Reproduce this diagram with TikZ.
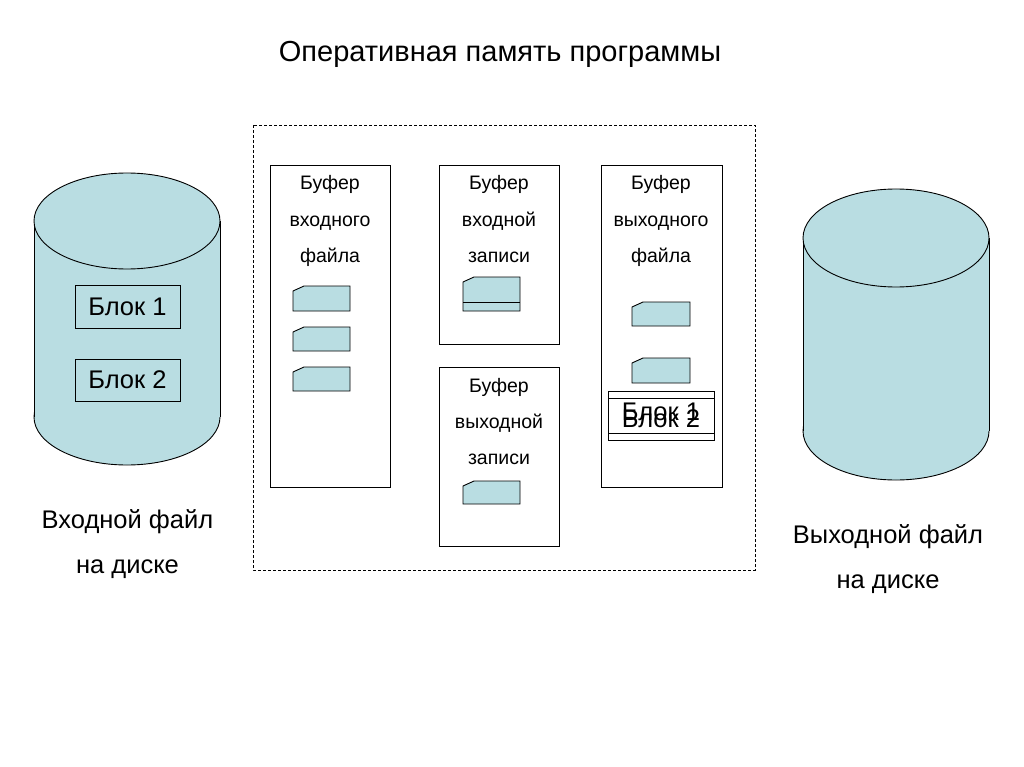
\documentclass[tikz,border=0pt]{standalone}
\usepackage{fontspec}
\setmainfont{Liberation Sans}
\definecolor{cyl}{RGB}{185,221,226}
\tikzset{
  x=1pt,y=-1pt,
  line/.style={draw=black,line width=0.9pt},
  bigtxt/.style={font=\fontsize{25.5}{25.5}\selectfont,inner sep=0pt},
  titletxt/.style={font=\fontsize{29}{29}\selectfont,inner sep=0pt,anchor=base},
  buftxt/.style={font=\fontsize{19.5}{19.5}\selectfont,inner sep=0pt,anchor=base},
  lbltxt/.style={bigtxt,anchor=base},
  bufbox/.style={line,fill=white},
  blk/.style={line,fill=cyl},
}
\newcommand\smallblk[4]{% x1 y1 x2 y2
  \draw[blk] (#1,#2+5) -- (#1+11,#2) -- (#3,#2) -- (#3,#4) -- (#1,#4) -- cycle;}
\newcommand\cylinder[5]{% cx rx ry topcy botcy
  \draw[line,fill=cyl] (#1,#5) ellipse[x radius=#2,y radius=#3];
  \fill[cyl] (#1-#2,#4) rectangle (#1+#2,#5);
  \draw[line] (#1-#2,#4) -- (#1-#2,#5) (#1+#2,#4) -- (#1+#2,#5);
  \draw[line,fill=cyl] (#1,#4) ellipse[x radius=#2,y radius=#3];}
\begin{document}
\begin{tikzpicture}
\useasboundingbox[fill=white] (0,0) rectangle (1024,767);
% title
\node[titletxt] (title) at (500,62) {Оперативная память программы};
% cylinders
\cylinder{127}{93}{48}{221}{417}
\cylinder{896}{93}{49}{238}{431}
\node[bigtxt,draw,line width=0.9pt,minimum width=105,minimum height=43] (b1) at (127.5,306.5) {Блок 1};
\node[bigtxt,draw,line width=0.9pt,minimum width=105,minimum height=42] (b2) at (127.5,380) {Блок 2};
\node[lbltxt] (inl1) at (127.5,528) {Входной файл};
\node[lbltxt] (inl2) at (127.5,573) {на диске};
\node[lbltxt] (outl1) at (888,543) {Выходной файл};
\node[lbltxt] (outl2) at (888,588) {на диске};
% dashed memory area
\draw[line width=0.8pt,dashed,dash pattern=on 3pt off 2pt] (253,125) rectangle (755,570);
% buffers
\draw[bufbox] (270,165) rectangle (390,487);
\draw[bufbox] (439,165) rectangle (559,344);
\draw[bufbox] (439,367) rectangle (559,546);
\draw[bufbox] (601,165) rectangle (722,487);
\node[buftxt] (t11) at (330,190) {Буфер};
\node[buftxt] (t12) at (330,226) {входного};
\node[buftxt] (t13) at (330,262) {файла};
\node[buftxt] (t21) at (499,190) {Буфер};
\node[buftxt] (t22) at (499,226) {входной};
\node[buftxt] (t23) at (499,262) {записи};
\node[buftxt] (t31) at (499,392) {Буфер};
\node[buftxt] (t32) at (499,428) {выходной};
\node[buftxt] (t33) at (499,464) {записи};
\node[buftxt] (t41) at (661,190) {Буфер};
\node[buftxt] (t42) at (661,226) {выходного};
\node[buftxt] (t43) at (661,262) {файла};
% small blocks
\smallblk{293}{286}{350}{311}
\smallblk{293}{327}{350}{351}
\smallblk{293}{367}{350}{391}
\smallblk{463}{277}{520}{311}
\draw[line] (463,302) -- (520,302);
\smallblk{463}{481}{520}{504}
\smallblk{632}{302}{690}{326}
\smallblk{632}{358}{690}{383}
% overlapping block boxes in output buffer
\node[bigtxt,draw,line width=0.9pt,fill=white,minimum width=106,minimum height=42] (ob1) at (661,412) {Блок 1};
\node[bigtxt,draw,line width=0.9pt,minimum width=106,minimum height=42] (ob2) at (661,419) {Блок 2};
\end{tikzpicture}
\end{document}
